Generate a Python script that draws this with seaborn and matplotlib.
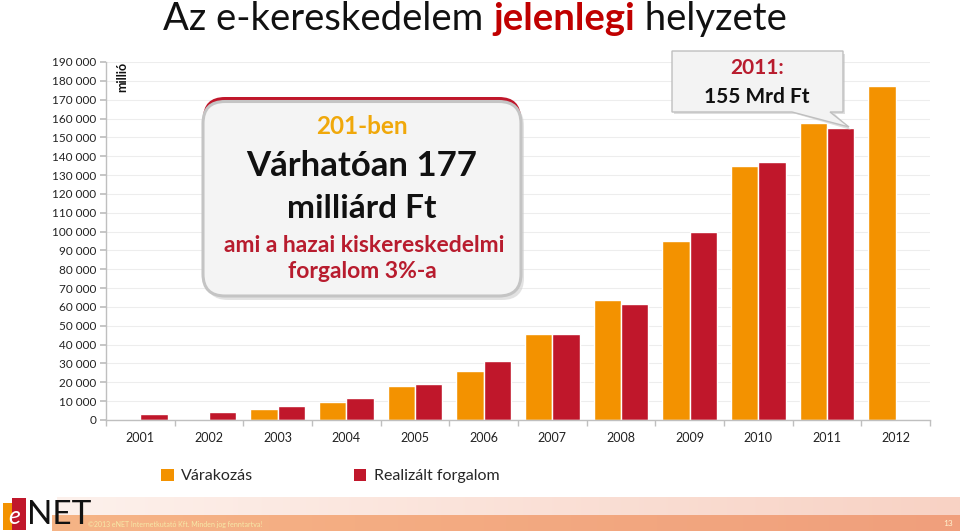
import numpy as np
import pandas as pd
import matplotlib
matplotlib.use("Agg")
import matplotlib.pyplot as plt
import seaborn as sns
from matplotlib.patches import FancyBboxPatch, Polygon, Rectangle, Patch
from matplotlib.ticker import FuncFormatter, MultipleLocator

# ---------------- data ----------------
years = ["2001", "2002", "2003", "2004", "2005", "2006", "2007", "2008", "2009", "2010", "2011", "2012"]
expected = [np.nan, np.nan, 5800, 9700, 17900, 26200, 45500, 63700, 94800, 135000, 157800, 177000]
realized = [3000, 4300, 7300, 11800, 19100, 31300, 45800, 61400, 99600, 136900, 155000, np.nan]
series_names = ["Várakozás", "Realizált forgalom"]
title_parts = ["Az e-kereskedelem ", "jelenlegi", " helyzete"]
y_unit = "millió"

ORANGE = "#F39200"
RED = "#C0172B"

sns.set_theme(style="white")
plt.rcParams["font.family"] = ["Lato", "DejaVu Sans"]

df = pd.DataFrame({
    "year": years * 2,
    "value": expected + realized,
    "series": [series_names[0]] * len(years) + [series_names[1]] * len(years),
})

fig = plt.figure(figsize=(9.6, 5.31), dpi=100)
W, H = 960, 531
ax = fig.add_axes([106 / W, 1 - 420 / H, (930 - 106) / W, (420 - 62) / H])

sns.barplot(data=df, x="year", y="value", hue="series", order=years,
            hue_order=series_names, palette=[ORANGE, RED], saturation=1,
            width=0.8, ax=ax, legend=False)

ax.set_ylim(0, 190000)
ax.set_xlim(-0.5, len(years) - 0.5)
ax.yaxis.set_major_locator(MultipleLocator(10000))
ax.yaxis.set_major_formatter(FuncFormatter(lambda v, p: f"{int(v):,}".replace(",", " ")))
ax.set_xlabel("")
ax.set_ylabel("")
ax.yaxis.grid(True, color="#EDEDED", lw=0.8)
ax.set_axisbelow(True)
for s in ["top", "right"]:
    ax.spines[s].set_visible(False)
for s in ["left", "bottom"]:
    ax.spines[s].set_color("#BFBFBF")
    ax.spines[s].set_linewidth(1.0)
ax.tick_params(axis="y", left=True, length=4, color="#BFBFBF", labelsize=8.5,
               labelcolor="#222222", pad=3)
ax.tick_params(axis="x", bottom=False, length=0, labelsize=9, labelcolor="#222222", pad=9)
ax.set_xticks(np.arange(-0.5, len(years), 1.0), minor=True)
ax.tick_params(axis="x", which="minor", bottom=True, length=4, color="#BFBFBF")

ax.text(0.012, 1.0, y_unit, transform=ax.transAxes, rotation=90, ha="left", va="top",
        fontsize=9, fontweight="bold", color="#111111")

# legend
handles = [Patch(facecolor=ORANGE, edgecolor="none"), Patch(facecolor=RED, edgecolor="none")]
fig.legend(handles, series_names, loc="center left", bbox_to_anchor=(153 / W, 1 - 476 / H),
           ncol=2, frameon=False, fontsize=11.5, handlelength=0.8, handleheight=0.8,
           handletextpad=0.45, columnspacing=6.3, borderpad=0)

# ---------------- overlay in pixel coordinates ----------------
ov = fig.add_axes([0, 0, 1, 1], zorder=5)
ov.set_xlim(0, W)
ov.set_ylim(H, 0)
ov.axis("off")
ov.patch.set_alpha(0)

# title (multi-coloured)
fig.canvas.draw()
r = fig.canvas.get_renderer()
tmp = []
widths = []
styles = [("#111111", "normal"), ("#C00000", "bold"), ("#111111", "normal")]
for part, (c, fw) in zip(title_parts, styles):
    t = ov.text(0, 0, part, fontsize=27.5, color=c, fontweight=fw, ha="left", va="center")
    bb = t.get_window_extent(renderer=r)
    widths.append(bb.width)
    tmp.append(t)
total = sum(widths)
x0 = 475 - total / 2
for t, w in zip(tmp, widths):
    t.set_position((x0, 19))
    x0 += w

# callout box 1
ov.add_patch(FancyBboxPatch((206, 104), 318, 196, boxstyle="round,pad=0,rounding_size=22",
                            facecolor="#D0D0D0", edgecolor="none", alpha=0.6))
ov.add_patch(FancyBboxPatch((203, 97), 318, 197, boxstyle="round,pad=0,rounding_size=22",
                            facecolor=RED, edgecolor="none"))
ov.add_patch(FancyBboxPatch((203, 101.5), 318, 194.5, boxstyle="round,pad=0,rounding_size=22",
                            facecolor="#F4F4F4", edgecolor="#C4C4C4", lw=2.2))
cx = 362
ov.text(cx, 127, "201-ben", fontsize=17.5, fontweight="bold", color="#F0A80A", ha="center", va="center")
ov.text(cx, 166, "Várhatóan 177", fontsize=25, fontweight="bold", color="#111111", ha="center", va="center")
ov.text(cx, 209, "milliárd Ft", fontsize=24, fontweight="bold", color="#111111", ha="center", va="center")
ov.text(cx + 2, 245, "ami a hazai kiskereskedelmi", fontsize=16.5, fontweight="bold", color="#B81C2E", ha="center", va="center")
ov.text(cx, 272, "forgalom 3%-a", fontsize=16.5, fontweight="bold", color="#B81C2E", ha="center", va="center")

# callout box 2 with pointer
shadow = Polygon([(674, 54), (845, 54), (845, 114), (835, 114), (851, 130), (796, 114), (674, 114)],
                 closed=True, facecolor="#C8C8C8", edgecolor="none", alpha=0.6)
ov.add_patch(shadow)
call = Polygon([(672, 51), (843, 51), (843, 112), (830, 112), (849, 127), (792, 112), (672, 112)],
               closed=True, facecolor="#F3F3F3", edgecolor="#BFBFBF", lw=1.0)
ov.add_patch(call)
ov.text(757, 68, "2011:", fontsize=15, fontweight="bold", color="#B81C2E", ha="center", va="center")
ov.text(757, 97, "155 Mrd Ft", fontsize=15, fontweight="bold", color="#111111", ha="center", va="center")

# footer gradient bands
fx0 = 52
n = 400
t = np.linspace(0, 1, n)
top_l = np.array([0xFD, 0xF1, 0xEC]) / 255
top_r = np.array([0xF8, 0xD2, 0xC4]) / 255
bot_l = np.array([0xF6, 0xB4, 0x86]) / 255
bot_r = np.array([0xF0, 0x9F, 0x7C]) / 255
top_band = (top_l[None, :] * (1 - t[:, None]) + top_r[None, :] * t[:, None])[None, :, :]
bot_band = (bot_l[None, :] * (1 - t[:, None]) + bot_r[None, :] * t[:, None])[None, :, :]
ov.imshow(top_band, extent=(fx0 + 5, W, 515, 497), aspect="auto", zorder=1)
ov.imshow(bot_band, extent=(fx0, W, 531, 515), aspect="auto", zorder=1)
ov.set_xlim(0, W)
ov.set_ylim(H, 0)
ov.text(88, 524, "©2013 eNET Internetkutató Kft. Minden jog fenntartva!", fontsize=5,
        color="#F6E9A8", ha="left", va="center", zorder=3)
ov.text(948, 524, "13", fontsize=6, color="#FFF3D0", ha="center", va="center", zorder=3)

# logo
ov.add_patch(Rectangle((3, 503), 9, 27, facecolor="#F39200", edgecolor="none", zorder=3))
ov.add_patch(Rectangle((12, 498), 14, 32, facecolor="#C0172B", edgecolor="none", zorder=3))
ov.text(14, 517, "e", fontsize=18, fontstyle="italic", color="white", ha="center", va="center", zorder=4)
ov.text(27, 515, "NET", fontsize=24, color="#111111", ha="left", va="center", zorder=3)

fig.savefig("out.png", dpi=100)
